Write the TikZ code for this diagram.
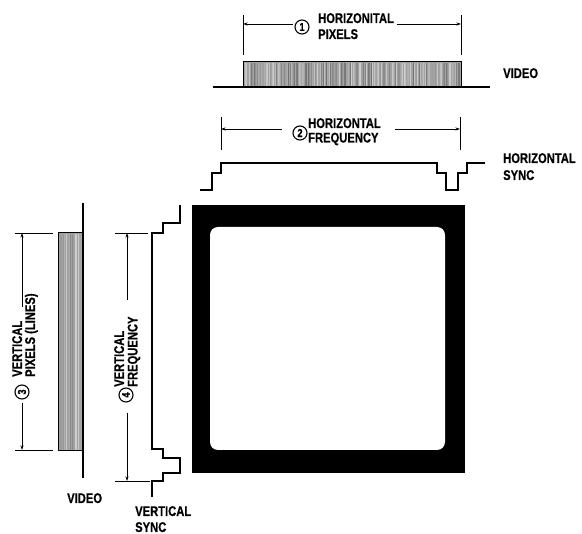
\documentclass[tikz,border=0pt]{standalone}
\usepackage{fontspec}
\newfontfamily\lblfont{Liberation Sans Bold}[FakeStretch=0.8,FakeBold=0.6]
\usetikzlibrary{arrows.meta}
\begin{document}
\begin{tikzpicture}[x=1pt,y=-1pt,
  lbl/.style={inner sep=0pt, anchor=north west, align=left, font=\lblfont\fontsize{14}{15.5}\selectfont},
  num/.style={circle, draw, line width=1.1pt, inner sep=0pt, minimum size=14pt, font=\lblfont\fontsize{11.5}{11.5}\selectfont},
  wave/.style={line width=1.2pt, line join=miter},
  tick/.style={line width=0.8pt},
  dim/.style={line width=0.8pt, -{Stealth[length=4.5pt,width=3pt]}}]
\useasboundingbox (0,0) rectangle (582,534);

% ---------- top: horizontal pixels / video ----------
\coordinate (t1a) at (243,15); \coordinate (t1b) at (243,55);
\coordinate (t1c) at (461,15); \coordinate (t1d) at (461,55);
\draw[tick] (t1a) -- (t1b);
\draw[tick] (t1c) -- (t1d);
\node[num] (c1) at (302,27) {1};
\node[lbl, font=\lblfont\fontsize{14}{16}\selectfont] (l1) at (318,13) {HORIZONITAL\\PIXELS};
\coordinate (d1l) at (293,24); \coordinate (d1r) at (397,24);
\draw[dim] (d1l) -- (243,24);
\draw[dim] (d1r) -- (461,24);

\fill[black!36] (243,62) rectangle (461,87);
\pgfmathsetseed{7}
\foreach \i in {0,...,144} {
  \pgfmathsetmacro\g{18+38*rnd}
  \draw[black!\g, line width=0.7pt] (243.8+\i*1.5,62.6) -- ++(0,24);
}
\draw[line width=1pt] (243,87) -- (243,62) -- (461,62) -- (461,87);
\coordinate (b1l) at (213,87); \coordinate (b1r) at (490,87);
\draw[wave] (b1l) -- (b1r);
\node[lbl] (v1) at (503,68) {VIDEO};

% ---------- horizontal frequency / sync ----------
\coordinate (t2a) at (221,117); \coordinate (t2b) at (221,150);
\coordinate (t2c) at (460,117); \coordinate (t2d) at (460,150);
\draw[tick] (t2a) -- (t2b);
\draw[tick] (t2c) -- (t2d);
\node[num] (c2) at (300,133) {2};
\node[lbl, font=\lblfont\fontsize{14}{14.5}\selectfont] (l2) at (308,118) {HORIZONTAL\\FREQUENCY};
\coordinate (d2l) at (282,129); \coordinate (d2r) at (395,129);
\draw[dim] (d2l) -- (221,129);
\draw[dim] (d2r) -- (460,129);

\draw[wave] (200,190) -- (212,190) -- (212,173) -- (221,173) -- (221,163)
  -- (437,163) -- (437,173) -- (446,173) -- (446,190) -- (458,190)
  -- (458,173) -- (467,173) -- (467,163) -- (485,163);
\node[lbl, font=\lblfont\fontsize{14}{17}\selectfont] (hs) at (503,153) {HORIZONTAL\\SYNC};

% ---------- screen ----------
\fill[black] (192,205) rectangle (465,473);
\fill[white, rounded corners=8pt] (210,227) rectangle (445,450);

% ---------- vertical sync ----------
\draw[wave] (180,205) -- (180,223) -- (163,223) -- (163,233) -- (152,233)
  -- (152,449) -- (163,449) -- (163,458) -- (180,458) -- (180,473)
  -- (163,473) -- (163,481) -- (152,481) -- (152,497);
\node[lbl, font=\lblfont\fontsize{14}{16}\selectfont] (vs) at (135,506) {VERTICAL\\SYNC};

% ---------- vertical frequency ----------
\coordinate (t4a) at (115,233); \coordinate (t4b) at (148,233);
\coordinate (t4c) at (115,481); \coordinate (t4d) at (150,481);
\draw[tick] (t4a) -- (t4b);
\draw[tick] (t4c) -- (t4d);
\node[num, rotate=90] (c4) at (126,395) {4};
\node[lbl, rotate=90, font=\lblfont\fontsize{14}{13.5}\selectfont] (l4) at (114,387) {VERTICAL\\FREQUENCY};
\coordinate (d4t) at (127,300); \coordinate (d4b) at (127,413);
\draw[dim] (d4t) -- (127,233);
\draw[dim] (d4b) -- (127,481);

% ---------- vertical pixels / video ----------
\coordinate (t3a) at (15,233); \coordinate (t3b) at (53,233);
\coordinate (t3c) at (15,450); \coordinate (t3d) at (53,450);
\draw[tick] (t3a) -- (t3b);
\draw[tick] (t3c) -- (t3d);
\node[num, rotate=90] (c3) at (22,392) {3};
\node[lbl, rotate=90, font=\lblfont\fontsize{14}{13}\selectfont] (l3) at (12,377) {VERTICAL\\PIXELS (LINES)};
\coordinate (d3t) at (22,307); \coordinate (d3b) at (22,403);
\draw[dim] (d3t) -- (22,233);
\draw[dim] (d3b) -- (22,450);

\fill[black!36] (58,233) rectangle (83,451);
\foreach \i in {0,...,16} {
  \pgfmathsetmacro\g{18+38*rnd}
  \draw[black!\g, line width=0.7pt] (58.8+\i*1.5,233.6) -- ++(0,217);
}
\draw[line width=1pt] (83,451) -- (58,451) -- (58,233) -- (83,233);
\coordinate (b3t) at (83,203); \coordinate (b3b) at (83,478);
\draw[wave] (b3t) -- (b3b);
\node[lbl] (v3) at (67,493) {VIDEO};
\end{tikzpicture}
\end{document}
